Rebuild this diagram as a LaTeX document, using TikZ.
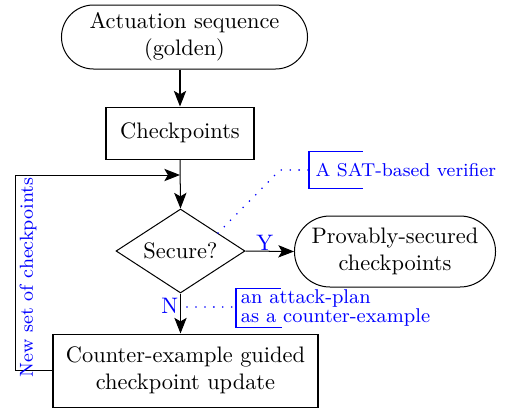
\documentclass[tikz,border=0pt]{standalone}
\usetikzlibrary{shapes.geometric,shapes.misc,arrows.meta}
\begin{document}
\begin{tikzpicture}[x=0.4464pt,y=-0.4464pt,
  line width=0.45pt,
  term/.style={draw, rounded rectangle, align=center, inner sep=2pt},
  proc/.style={draw, rectangle, align=center, inner sep=2pt},
  dec/.style={draw, diamond, aspect=1.536, inner sep=0pt, align=center},
  flow/.style={-{Stealth[length=7pt,width=5.5pt,inset=1.6pt]}},
  lbl/.style={text=blue},
  note/.style={text=blue, align=left, anchor=west},
  hint/.style={blue, line width=0.8pt, line cap=round, dash pattern=on 0pt off 4pt},
  bracket/.style={blue, line width=0.5pt}]
\useasboundingbox (0,0) rectangle (507,412);

% main flow
\node[term, minimum width={255*0.4464pt}, minimum height={64*0.4464pt}] (act) at (184.5,37) {Actuation sequence\\(golden)};
\node[proc, minimum width={148*0.4464pt}, minimum height={52*0.4464pt}] (chk) at (180,133) {Checkpoints};
\node[dec, minimum width={129*0.4464pt}, minimum height={84*0.4464pt}] (sec) at (180.5,251) {Secure?};
\node[term, minimum width={210*0.4464pt}, minimum height={71*0.4464pt}] (prov) at (395,251.5) {Provably-secured\\checkpoints};
\node[proc, minimum width={265*0.4464pt}, minimum height={73*0.4464pt}] (upd) at (185.5,370.5) {Counter-example guided\\checkpoint update};

\coordinate (join) at (180,175);

\draw[flow] (act.south -| chk.north) -- (chk.north);
\draw[flow] (chk.south) -- (sec.north);
\draw[flow] (sec.east) -- node[lbl, above, inner sep=0pt, pos=0.4] {Y} (prov.west);
\draw[flow] (sec.south) -- node[lbl, left, inner sep=0.8pt, pos=0.32] {N} (sec.south |- upd.north);

% feedback loop
\draw[flow] (upd.west) -- ++(-37,0) coordinate (lc) |- (join);
\node[lbl, font=\fontsize{8.4}{10}\selectfont, rotate=90] (loop) at (28,277.5) {New set of checkpoints};

% annotations
\node[note, font=\fontsize{8.3}{10}\selectfont, inner xsep=2.7pt, minimum height=16pt] (ann1) at (309,170) {A SAT-based verifier};
\draw[bracket] ([xshift=24pt]ann1.north west) -- (ann1.north west) -- (ann1.south west) -- ([xshift=24pt]ann1.south west);
\coordinate (v1) at (218,233);
\coordinate (v2) at (280,170);
\draw[hint] (v1) -- (v2) -- (ann1.west);

\node[note, inner xsep=2pt, inner ysep=0.3pt, font=\fontsize{8.9}{8.2}\selectfont] (ann2) at (236,308) {an attack-plan\\as a counter-example};
\draw[bracket] ([xshift=20pt]ann2.north west) -- (ann2.north west) -- (ann2.south west) -- ([xshift=20.5pt]ann2.south west);
\coordinate (n1) at (187,307);
\draw[hint] (n1) -- (n1 -| ann2.west);
\end{tikzpicture}
\end{document}
